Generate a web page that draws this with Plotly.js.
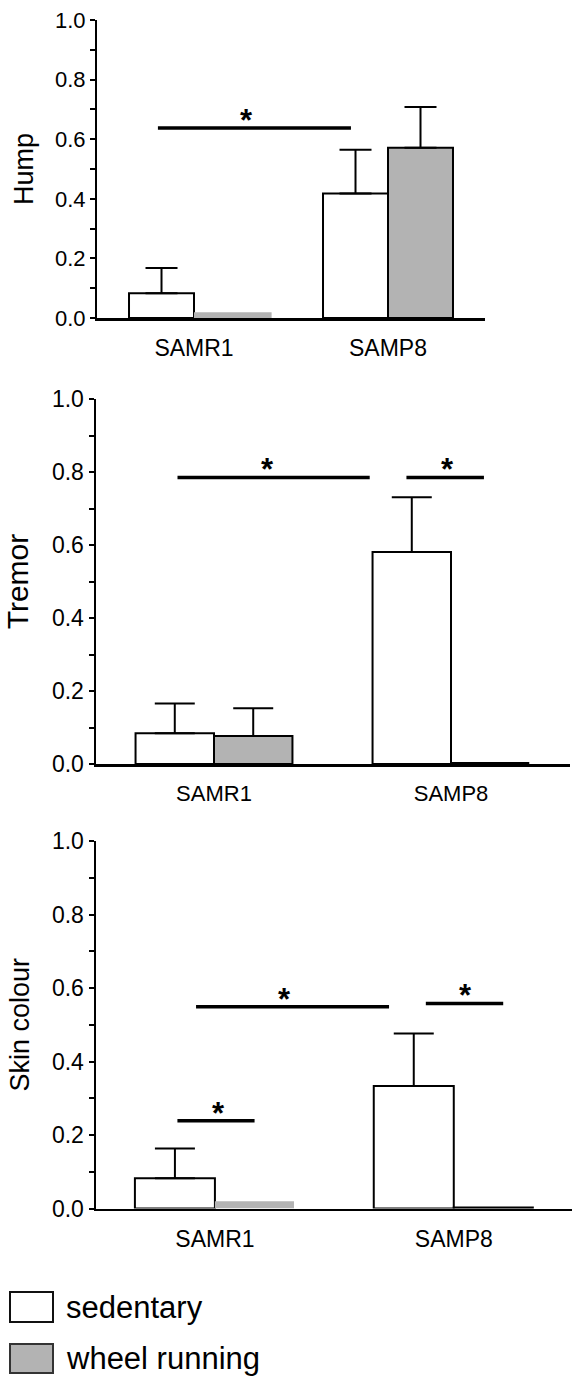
<!DOCTYPE html>
<html>
<head>
<meta charset="utf-8">
<script src="https://cdn.plot.ly/plotly-3.0.1.min.js"></script>
<style>html,body{margin:0;padding:0;background:#fff;}#chart{width:572px;height:1378px;}</style>
</head>
<body>
<div id="chart"></div>
<script>
// ---- data ----
const groups = [0, 1];
const groupLabels = ['SAMR1', 'SAMP8'];
const seriesNames = ['sedentary', 'wheel running'];
const panelTitles = ['Hump', 'Tremor', 'Skin colour'];
const yTickVals = [0, 0.2, 0.4, 0.6, 0.8, 1.0];

const humpSed = [0.083, 0.418];
const humpSedErr = [0.085, 0.147];
const humpWheel = [0.019, 0.571];
const humpWheelErr = [0, 0.137];

const tremorSed = [0.084, 0.581];
const tremorSedErr = [0.082, 0.150];
const tremorWheel = [0.077, 0.003];
const tremorWheelErr = [0.076, 0];

const skinSed = [0.082, 0.333];
const skinSedErr = [0.081, 0.143];
const skinWheel = [0.020, 0.003];
const skinWheelErr = [0, 0];

// significance bars (x in group units, y in data units)
const humpSigX0 = [-0.186], humpSigX1 = [0.809], humpSigY = [0.638], humpStarX = [0.273];
const tremorSigX0 = [-0.154, 0.812], tremorSigX1 = [0.657, 1.139], tremorSigY = [0.785, 0.785], tremorStarX = [0.224, 0.985];
const skinSigX0 = [-0.157, -0.079, 0.883], skinSigX1 = [0.166, 0.729, 1.207], skinSigY = [0.239, 0.549, 0.558], skinStarX = [0.015, 0.291, 1.048];

// ---- styling / layout ----
const W = 572, H = 1378;
const FONT = 'Liberation Sans, Arial, sans-serif';
const GRAY = '#b3b3b3';
function py(px) { return 1 - px / H; }
// zero error -> no error bar at all (NaN on both sides makes Plotly skip it)
function errUp(a) { return a.map(v => (v > 0 ? v : NaN)); }
function errDown(a) { return a.map(v => (v > 0 ? 0 : NaN)); }

const panels = [
  {sed: humpSed, sedErr: humpSedErr, wh: humpWheel, whErr: humpWheelErr,
   sx0: humpSigX0, sx1: humpSigX1, sy: humpSigY, st: humpStarX,
   xdom: [97 / W, 485 / W], ydom: [py(318), py(20)], xr: [-0.5, 1.5],
   bw: 0.335, whw: [0.40, 0.335], whLine: [0, 2], cap: 16, tickFs: 22, xFs: 23, titleFs: 27, standoff: 14},
  {sed: tremorSed, sedErr: tremorSedErr, wh: tremorWheel, whErr: tremorWheelErr,
   sx0: tremorSigX0, sx1: tremorSigX1, sy: tremorSigY, st: tremorStarX,
   xdom: [95.5 / W, 569.5 / W], ydom: [py(764), py(399)], xr: [-0.5, 1.5],
   bw: 0.331, whw: [0.331, 0.326], whLine: [2, 2], cap: 20, tickFs: 23, xFs: 22, titleFs: 30, standoff: 14},
  {sed: skinSed, sedErr: skinSedErr, wh: skinWheel, whErr: skinWheelErr,
   sx0: skinSigX0, sx1: skinSigX1, sy: skinSigY, st: skinStarX,
   xdom: [95.5 / W, 1], ydom: [py(1208.5), py(841)], xr: [-0.5, 1.495],
   bw: 0.335, whw: [0.331, 0.331], whLine: [0, 2], cap: 20, tickFs: 23, xFs: 23, titleFs: 27, standoff: 14}
];

const traces = [];
const layout = {
  width: W, height: H,
  margin: {l: 0, r: 0, t: 0, b: 0},
  paper_bgcolor: '#fff', plot_bgcolor: 'rgba(0,0,0,0)',
  barmode: 'overlay', showlegend: false,
  font: {family: FONT, color: '#000'},
  shapes: [], annotations: []
};

panels.forEach((p, i) => {
  const n = i === 0 ? '' : String(i + 1);
  const xa = 'x' + n, ya = 'y' + n;
  traces.push({
    type: 'bar', x: groups, y: p.sed, xaxis: xa, yaxis: ya, name: seriesNames[0],
    width: [p.bw, p.bw], offset: [-p.bw, -p.bw],
    marker: {color: '#ffffff', line: {color: '#000', width: 2}},
    error_y: {type: 'data', symmetric: false, array: errUp(p.sedErr), arrayminus: errDown(p.sedErr),
              color: '#000', thickness: 2, width: p.cap},
    hoverinfo: 'skip'
  });
  traces.push({
    type: 'bar', x: groups, y: p.wh, xaxis: xa, yaxis: ya, name: seriesNames[1],
    width: p.whw, offset: [0, 0],
    marker: {color: GRAY, line: {color: '#000', width: p.whLine}},
    error_y: {type: 'data', symmetric: false, array: errUp(p.whErr), arrayminus: errDown(p.whErr),
              color: '#000', thickness: 2, width: p.cap},
    hoverinfo: 'skip'
  });
  layout['xaxis' + n] = {
    domain: p.xdom, range: p.xr, anchor: ya, fixedrange: true,
    showline: true, linecolor: '#000', linewidth: 2.5, showgrid: false, zeroline: false,
    ticks: '', tickmode: 'array', tickvals: groups, ticktext: groupLabels,
    tickfont: {family: FONT, size: p.xFs, color: '#000'}, ticklabelstandoff: 8
  };
  layout['yaxis' + n] = {
    domain: p.ydom, range: [0, 1.0], anchor: xa, fixedrange: true,
    showline: true, linecolor: '#000', linewidth: 2, showgrid: false, zeroline: false,
    ticks: 'outside', ticklen: 5, tickwidth: 2, tickcolor: '#000',
    tickmode: 'array', tickvals: yTickVals, tickformat: '.1f',
    minor: {tickmode: 'array', tickvals: [0.1, 0.3, 0.5, 0.7, 0.9], ticks: 'outside', ticklen: 5, tickwidth: 2, tickcolor: '#000'},
    tickfont: {family: FONT, size: p.tickFs, color: '#000'},
    title: {text: panelTitles[i], font: {family: FONT, size: p.titleFs, color: '#000'}, standoff: p.standoff}
  };
  p.sx0.forEach((x0, k) => {
    layout.shapes.push({type: 'line', xref: xa, yref: ya, x0: x0, x1: p.sx1[k], y0: p.sy[k], y1: p.sy[k],
                        line: {color: '#000', width: 3.5}});
    layout.annotations.push({xref: xa, yref: ya, x: p.st[k], y: p.sy[k], text: '<b>*</b>', showarrow: false,
                             xanchor: 'center', yanchor: 'bottom', yshift: -11, borderpad: 0,
                             font: {family: FONT, size: 31, color: '#000'}});
  });
});

// legend (drawn manually to match the boxed swatches)
const legendBoxes = [[1292, 1322, '#ffffff', '#111'], [1344, 1373, GRAY, '#333']];
legendBoxes.forEach((b, k) => {
  layout.shapes.push({type: 'rect', xref: 'paper', yref: 'paper', x0: 10 / W, x1: 53 / W, y0: py(b[1]), y1: py(b[0]),
                      fillcolor: b[2], line: {color: b[3], width: 2}});
  layout.annotations.push({xref: 'paper', yref: 'paper', x: 64 / W, y: py((b[0] + b[1]) / 2), text: seriesNames[k],
                           showarrow: false, xanchor: 'left', yanchor: 'middle',
                           font: {family: FONT, size: 31, color: '#000'}});
});

Plotly.newPlot('chart', traces, layout, {staticPlot: true, displayModeBar: false});
</script>
</body>
</html>
